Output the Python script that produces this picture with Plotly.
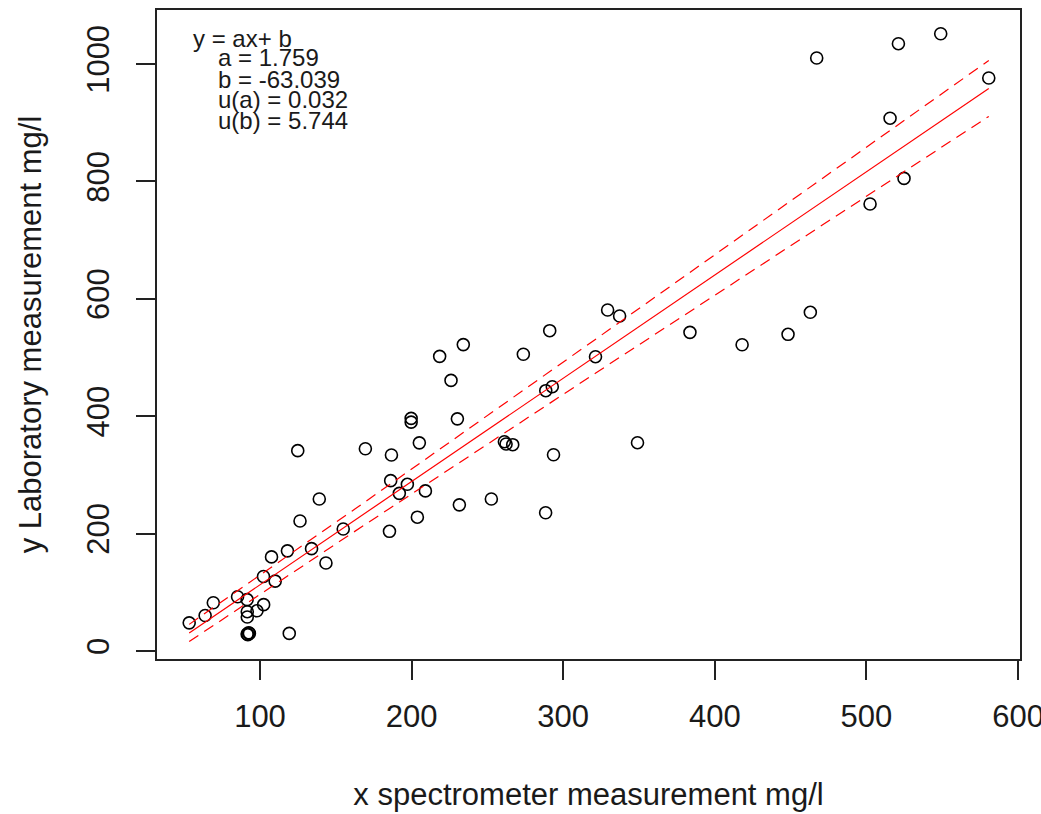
import numpy as np
import plotly.graph_objects as go

# ---- data ----
x_spec = [53.3, 63.8, 69.2, 85.2, 91.5, 102.4, 98.0, 91.6, 91.6,
          91.5, 92.5, 92.0, 93.0, 119.3,
          102.3, 110.0, 107.6, 118.1, 134.0, 143.5, 126.4, 139.1, 154.9,
          185.4, 203.8, 186.2, 197.2, 191.9, 209.1, 231.5, 252.6,
          124.9, 169.5, 186.7, 205.1, 199.7, 199.7, 230.2, 226.0, 218.5,
          234.1, 273.7, 291.1, 329.3, 337.2, 321.3, 288.5, 292.8,
          261.2, 262.3, 266.7, 293.6, 288.4, 349.0,
          383.6, 418.0, 448.3, 463.0, 502.4, 524.8, 515.6, 467.2,
          521.1, 549.0, 580.7]
y_lab = [48.0, 60.5, 82.3, 92.5, 87.5, 79.0, 68.5, 67.0, 58.0,
         29.0, 31.0, 28.0, 30.0, 30.0,
         127.0, 119.0, 160.3, 170.6, 174.4, 150.0, 221.5, 258.9, 207.8,
         203.9, 228.0, 290.2, 284.0, 268.6, 272.8, 249.0, 258.9,
         341.3, 344.6, 333.9, 354.6, 396.4, 390.0, 395.5, 461.0, 502.0,
         522.0, 505.5, 545.7, 580.9, 570.7, 501.4, 443.5, 450.3,
         356.6, 352.6, 351.5, 334.4, 235.6, 354.9,
         542.9, 521.8, 539.5, 577.0, 761.5, 805.1, 907.7, 1010.2,
         1034.6, 1051.6, 976.2]

# fit parameters shown on the chart
a_fit = 1.759
b_fit = -63.039
u_a = 0.032
u_b = 5.744
coverage_k = 2.45

x_ticks = [100, 200, 300, 400, 500, 600]
y_ticks = [0, 200, 400, 600, 800, 1000]

fit_text = ["y = ax+ b", "a = 1.759", "b = -63.039", "u(a) = 0.032", "u(b) = 5.744"]

# ---- model curves ----
xl = np.linspace(min(x_spec), max(x_spec), 60)
yl = a_fit * xl + b_fit
hw = coverage_k * np.sqrt(u_b ** 2 + (xl * u_a) ** 2)

FONT = "Liberation Sans, Arial, sans-serif"
TXT = "#1a1a1a"

fig = go.Figure()
fig.add_trace(go.Scatter(x=x_spec, y=y_lab, mode="markers",
                         marker=dict(symbol="circle-open", size=12,
                                     color="black", line=dict(width=1.6, color="black")),
                         showlegend=False))
fig.add_trace(go.Scatter(x=xl, y=yl, mode="lines",
                         line=dict(color="#ff0000", width=1.2), showlegend=False))
fig.add_trace(go.Scatter(x=xl, y=yl + hw, mode="lines",
                         line=dict(color="#ff0000", width=1.2, dash="11px,7px"), showlegend=False))
fig.add_trace(go.Scatter(x=xl, y=yl - hw, mode="lines",
                         line=dict(color="#ff0000", width=1.2, dash="11px,7px"), showlegend=False))

W, H = 1041, 814
L, R, T, B = 157, 21, 10, 155
ph = H - T - B
pw = W - L - R

def py(p):
    return 1 - (p - T) / ph

def px(p):
    return (p - L) / pw

line_y = [38, 58, 79, 100, 120]
line_x = [191, 216, 216, 216, 216]
for txt, lx, ly in zip(fit_text, line_x, line_y):
    fig.add_annotation(text=txt, xref="paper", yref="paper", x=px(lx), y=py(ly),
                       xanchor="left", yanchor="middle", showarrow=False,
                       font=dict(family=FONT, size=24, color=TXT))

axis_common = dict(showgrid=False, zeroline=False, showline=True, linecolor="#222",
                   linewidth=1.5, mirror=True, ticks="outside", ticklen=19,
                   tickwidth=1.5, tickcolor="#222", ticklabeloverflow="allow",
                   tickfont=dict(family=FONT, size=31, color=TXT))

fig.update_layout(
    width=W, height=H,
    margin=dict(l=L, r=R, t=T, b=B, autoexpand=False),
    paper_bgcolor="white", plot_bgcolor="white",
    xaxis=dict(range=[32.06, 601.3], tickvals=x_ticks, ticktext=[str(v) for v in x_ticks],
               ticklabelstandoff=10,
               title=dict(text="x spectrometer measurement mg/l", standoff=50,
                          font=dict(family=FONT, size=31, color=TXT)),
               automargin=False, **axis_common),
    yaxis=dict(range=[-13.6, 1092], tickvals=y_ticks, ticktext=[str(v) for v in y_ticks],
               tickangle=-90, ticklabelstandoff=15,
               title=dict(text="y Laboratory measurement mg/l", standoff=30,
                          font=dict(family=FONT, size=31, color=TXT)),
               automargin=False, **axis_common),
)

fig.write_html("out.html")
